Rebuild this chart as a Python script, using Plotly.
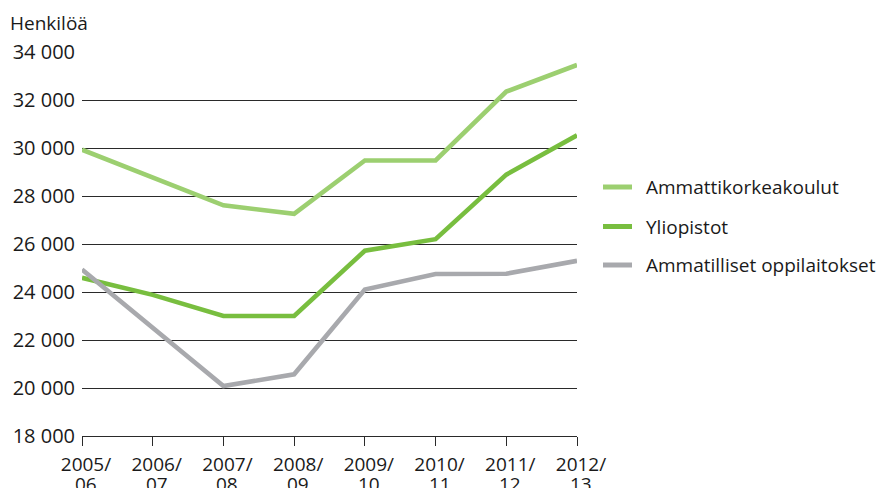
import plotly.graph_objects as go

categories = ["2005/06", "2006/07", "2007/08", "2008/09", "2009/10", "2010/11", "2011/12", "2012/13"]
tick_top = ["2005/", "2006/", "2007/", "2008/", "2009/", "2010/", "2011/", "2012/"]
tick_bottom = ["06", "07", "08", "09", "10", "11", "12", "13"]

ammattikorkeakoulut = [29930, 28770, 27610, 27260, 29480, 29480, 32350, 33460]
yliopistot = [24590, 23880, 23000, 23000, 25720, 26200, 28890, 30530]
ammatilliset = [24940, 22530, 20080, 20570, 24100, 24750, 24760, 25300]

series_names = ["Ammattikorkeakoulut", "Yliopistot", "Ammatilliset oppilaitokset"]
series_values = [ammattikorkeakoulut, yliopistot, ammatilliset]
colors = ["#9ccf70", "#78be3f", "#a8a9ad"]

y_ticks = [18000, 20000, 22000, 24000, 26000, 28000, 30000, 32000, 34000]

FONT = "Open Sans, Noto Sans, DejaVu Sans, sans-serif"
TEXT = "#1a1a1a"
GRID = "#2a2a2a"
FS = 19

fig = go.Figure()
for name, vals, col in zip(series_names, series_values, colors):
    fig.add_trace(go.Scatter(
        x=categories, y=vals, mode="lines", name=name,
        line=dict(color=col, width=4.6), showlegend=False,
    ))

# page body has an 8px margin: figure pixel = screen pixel - 8
OFF = 8
W, H = 887 - OFF, 488 - OFF
PL, PR, PT, PB = 82, 577, 52, 436  # plot area in screen pixels
L, R, T, B = PL - OFF, W - (PR - OFF), PT - OFF, H - (PB - OFF)
pw = W - L - R
ph = H - T - B

def px_to_paper_x(px):
    return (px - OFF - L) / pw

def px_to_paper_y(py):
    return (H - B - (py - OFF)) / ph

# manual legend
legend_y_px = [187, 226.5, 265]
shapes = []
annotations = []
for name, col, ypx in zip(series_names, colors, legend_y_px):
    yp = px_to_paper_y(ypx)
    shapes.append(dict(type="line", xref="paper", yref="paper",
                       x0=px_to_paper_x(603), x1=px_to_paper_x(632), y0=yp, y1=yp,
                       line=dict(color=col, width=5)))
    annotations.append(dict(text=name, xref="paper", yref="paper",
                            x=px_to_paper_x(644), y=yp, xanchor="left", yanchor="middle",
                            showarrow=False, font=dict(family=FONT, size=FS, color=TEXT)))

annotations.append(dict(text="Henkilöä", xref="paper", yref="paper",
                        x=px_to_paper_x(8), y=px_to_paper_y(23), xanchor="left", yanchor="middle",
                        showarrow=False, font=dict(family=FONT, size=FS, color=TEXT)))

# second line of the x tick labels
for cat, txt in zip(categories, tick_bottom):
    annotations.append(dict(text=txt, xref="x", yref="paper", x=cat, y=px_to_paper_y(484),
                            xanchor="center", yanchor="middle", xshift=4,
                            showarrow=False, font=dict(family=FONT, size=FS, color=TEXT)))

fig.update_layout(
    width=W, height=H,
    margin=dict(l=L, r=R, t=T, b=B, pad=0, autoexpand=False),
    paper_bgcolor="white", plot_bgcolor="white",
    separators=", ",
    font=dict(family=FONT, size=FS, color=TEXT),
    shapes=shapes, annotations=annotations,
)
fig.update_xaxes(
    type="category", range=[0, 7], automargin=False,
    tickmode="array", tickvals=categories, ticktext=tick_top,
    showgrid=False, zeroline=False,
    showline=True, linecolor=GRID, linewidth=1.3,
    ticks="outside", ticklen=9, tickwidth=1.3, tickcolor=GRID,
    ticklabelshift=4, ticklabelstandoff=2,
    tickfont=dict(family=FONT, size=FS, color=TEXT),
)
fig.update_yaxes(
    range=[18000, 34000], tickmode="array", tickvals=y_ticks, automargin=False,
    tickformat=",d",
    showgrid=True, gridcolor=GRID, gridwidth=1.3,
    zeroline=False, showline=False, ticks="",
    ticklabelstandoff=6,
    tickfont=dict(family=FONT, size=20, color=TEXT),
)

fig.write_html("out.html")
